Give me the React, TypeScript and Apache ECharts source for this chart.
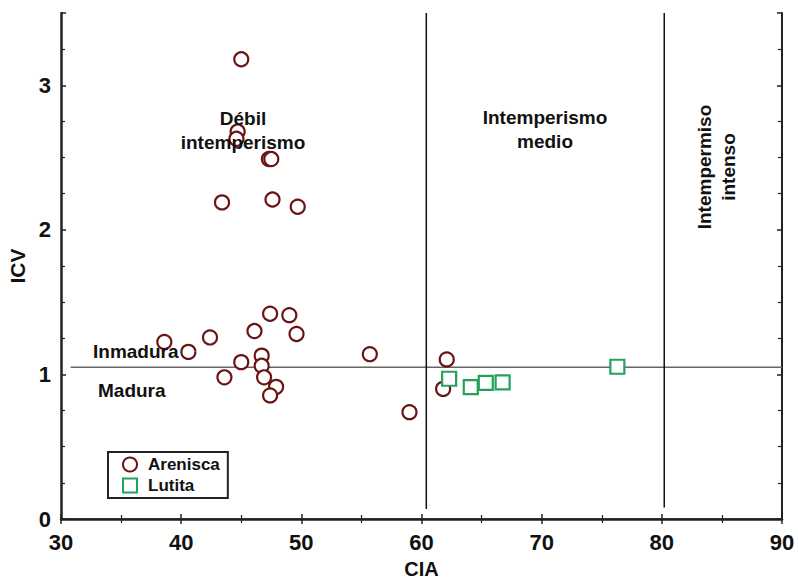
import React, { useEffect, useRef } from "react";
import * as echarts from "echarts";

const arenisca: [number, number][] = [
  [45.0, 3.18],
  [44.7, 2.68],
  [44.6, 2.63],
  [47.3, 2.49],
  [47.5, 2.49],
  [43.4, 2.19],
  [47.6, 2.21],
  [49.7, 2.16],
  [38.6, 1.225],
  [40.6, 1.156],
  [42.4, 1.256],
  [46.1, 1.30],
  [47.4, 1.42],
  [49.0, 1.41],
  [49.6, 1.28],
  [45.0, 1.085],
  [46.7, 1.13],
  [46.7, 1.06],
  [43.6, 0.98],
  [46.9, 0.98],
  [47.9, 0.914],
  [47.4, 0.855],
  [55.7, 1.14],
  [62.1, 1.104],
  [61.8, 0.90],
  [59.0, 0.739],
];

const lutita: [number, number][] = [
  [62.3, 0.97],
  [64.1, 0.912],
  [65.35, 0.942],
  [66.75, 0.945],
  [76.3, 1.053],
];

const limiteMadurez: [number, number][] = [
  [30.8, 1.05],
  [90, 1.05],
];
const limiteMedio: [number, number][] = [
  [60.4, 0.07],
  [60.4, 3.5],
];
const limiteIntenso: [number, number][] = [
  [80.2, 0.08],
  [80.2, 3.5],
];

const xTicks = { min: 30, max: 90, interval: 10 };
const yTicks = { min: 0, max: 3.5, interval: 1 };

const FONT = "Liberation Sans, Arial, sans-serif";
const RED = "#6b1414";
const GREEN = "#22a35a";

export default function App() {
  const ref = useRef<HTMLDivElement>(null);
  useEffect(() => {
    if (!ref.current) return;
    const chart = echarts.init(ref.current, undefined, { renderer: "svg" });
    const tickStyle = { show: true, inside: true, length: 5, lineStyle: { color: "#222", width: 1.5 } };
    const minorStyle = { show: true, length: 4, lineStyle: { color: "#222", width: 1.2 } };
    const labelStyle = { fontFamily: FONT, fontWeight: "bold" as const, fontSize: 22, color: "#111" };
    chart.setOption({
      animation: false,
      backgroundColor: "#fff",
      grid: { left: 61, right: 16, top: 13, bottom: 62, containLabel: false, outerBoundsMode: "none" },
      xAxis: [
        {
          type: "value",
          min: xTicks.min,
          max: xTicks.max,
          interval: xTicks.interval,
          name: "CIA",
          nameLocation: "middle",
          nameGap: 40,
          nameTextStyle: { ...labelStyle, fontSize: 20, lineHeight: 20 },
          axisLine: { lineStyle: { color: "#222", width: 2.5 } },
          axisTick: tickStyle,
          minorTick: { ...minorStyle, splitNumber: 2 },
          axisLabel: { ...labelStyle, margin: 12 },
          splitLine: { show: false },
        },
        {
          type: "value",
          position: "top",
          min: xTicks.min,
          max: xTicks.max,
          interval: xTicks.interval,
          axisLine: { lineStyle: { color: "#222", width: 1.5 } },
          axisTick: tickStyle,
          minorTick: { ...minorStyle, splitNumber: 2 },
          axisLabel: { show: false },
          splitLine: { show: false },
        },
      ],
      yAxis: [
        {
          type: "value",
          min: yTicks.min,
          max: yTicks.max,
          interval: yTicks.interval,
          name: "ICV",
          nameLocation: "middle",
          nameGap: 28,
          nameRotate: 90,
          nameTextStyle: { ...labelStyle, fontSize: 21 },
          axisLine: { lineStyle: { color: "#222", width: 2.5 } },
          axisTick: tickStyle,
          minorTick: { ...minorStyle, splitNumber: 4 },
          axisLabel: { ...labelStyle, margin: 10, showMaxLabel: false },
          splitLine: { show: false },
        },
        {
          type: "value",
          position: "right",
          min: yTicks.min,
          max: yTicks.max,
          interval: yTicks.interval,
          axisLine: { lineStyle: { color: "#222", width: 2 } },
          axisTick: tickStyle,
          minorTick: { ...minorStyle, splitNumber: 4 },
          axisLabel: { show: false },
          splitLine: { show: false },
        },
      ],
      legend: {
        orient: "vertical",
        left: 108,
        top: 452,
        padding: [4, 8, 4, 14],
        itemGap: 4,
        itemWidth: 14,
        itemHeight: 14,
        borderColor: "#222",
        borderWidth: 2,
        textStyle: { fontFamily: FONT, fontWeight: "bold", fontSize: 17, color: "#111", padding: [0, 0, 0, 6] },
        data: [
          { name: "Arenisca", icon: "circle" },
          { name: "Lutita", icon: "rect" },
        ],
      },
      series: [
        {
          type: "line",
          data: limiteMadurez,
          symbol: "none",
          lineStyle: { color: "#666", width: 1.5 },
          silent: true,
          z: 1,
        },
        {
          type: "line",
          data: limiteMedio,
          symbol: "none",
          lineStyle: { color: "#111", width: 1.5 },
          silent: true,
          z: 1,
        },
        {
          type: "line",
          data: limiteIntenso,
          symbol: "none",
          lineStyle: { color: "#111", width: 1.5 },
          silent: true,
          z: 1,
        },
        {
          name: "Arenisca",
          type: "scatter",
          data: arenisca,
          symbol: "circle",
          symbolSize: 14,
          itemStyle: { color: "#fff", borderColor: RED, borderWidth: 2.2, opacity: 1 },
          z: 3,
        },
        {
          name: "Lutita",
          type: "scatter",
          data: lutita,
          symbol: "rect",
          symbolSize: 14,
          itemStyle: { color: "#fff", borderColor: GREEN, borderWidth: 2.2, opacity: 1 },
          z: 4,
        },
      ],
      graphic: [
        {
          type: "text",
          x: 243,
          y: 130,
          z: 100,
          style: {
            text: "Débil\nintemperismo",
            fontFamily: FONT,
            fontWeight: "bold",
            fontSize: 19,
            lineHeight: 24,
            fill: "#111",
            align: "center",
            verticalAlign: "middle",
          },
        },
        {
          type: "text",
          x: 545,
          y: 129,
          z: 100,
          style: {
            text: "Intemperismo\nmedio",
            fontFamily: FONT,
            fontWeight: "bold",
            fontSize: 19,
            lineHeight: 24,
            fill: "#111",
            align: "center",
            verticalAlign: "middle",
          },
        },
        {
          type: "text",
          x: 716,
          y: 167,
          rotation: Math.PI / 2,
          z: 100,
          style: {
            text: "Intempermiso\nintenso",
            fontFamily: FONT,
            fontWeight: "bold",
            fontSize: 19,
            lineHeight: 24,
            fill: "#111",
            align: "center",
            verticalAlign: "middle",
          },
        },
        {
          type: "text",
          x: 93,
          y: 351,
          z: 100,
          style: {
            text: "Inmadura",
            fontFamily: FONT,
            fontWeight: "bold",
            fontSize: 19,
            fill: "#111",
            align: "left",
            verticalAlign: "middle",
          },
        },
        {
          type: "text",
          x: 98,
          y: 390,
          z: 100,
          style: {
            text: "Madura",
            fontFamily: FONT,
            fontWeight: "bold",
            fontSize: 19,
            fill: "#111",
            align: "left",
            verticalAlign: "middle",
          },
        },
      ],
    });
    return () => chart.dispose();
  }, []);
  return <div ref={ref} style={{ width: 798, height: 581, position: "absolute", left: 0, top: 0 }} />;
}
